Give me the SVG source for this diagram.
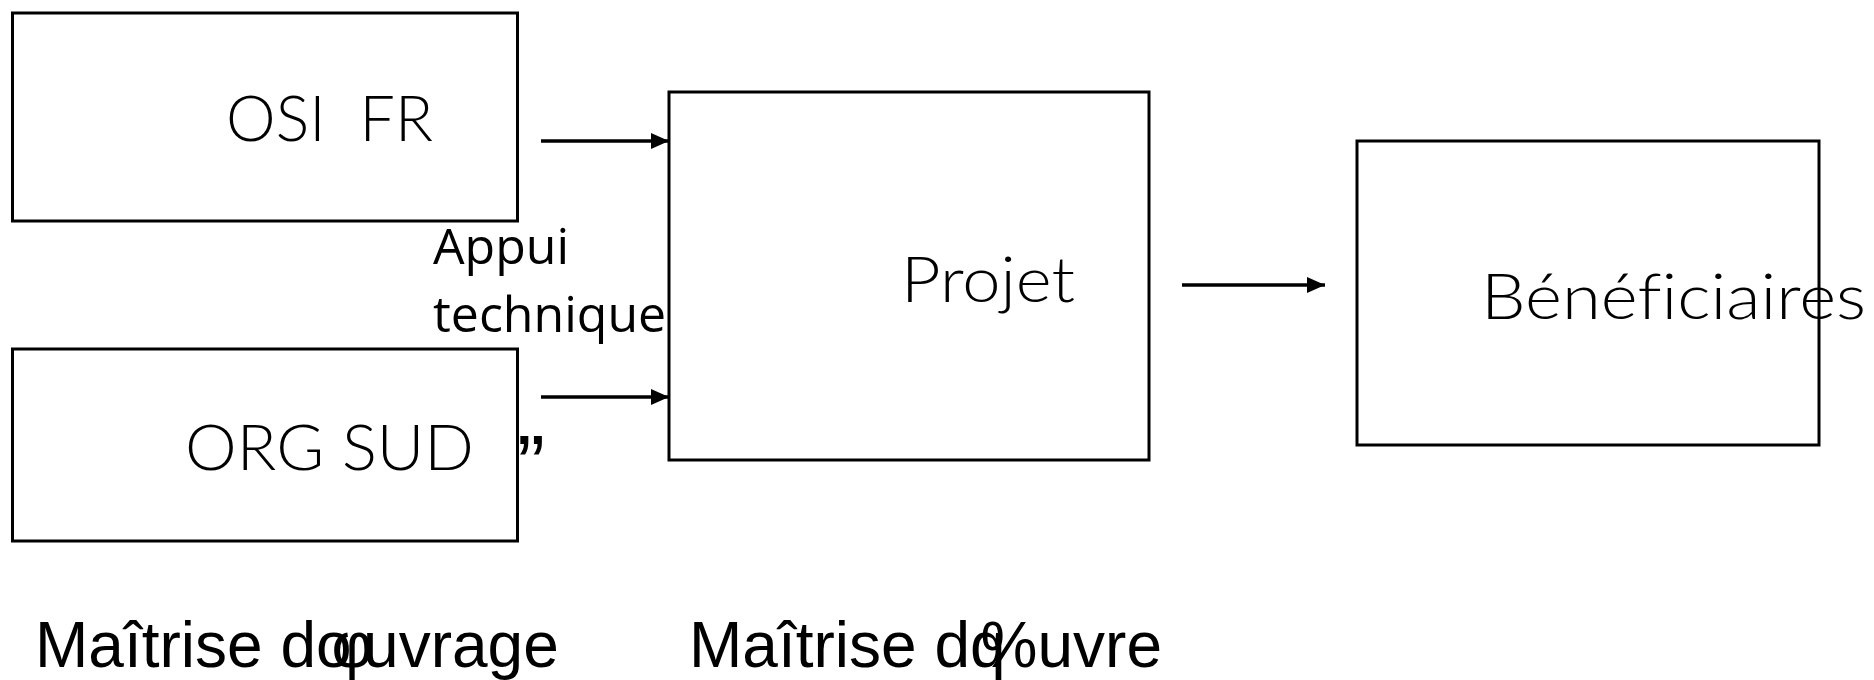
<svg xmlns="http://www.w3.org/2000/svg" width="1874" height="680" viewBox="0 0 1874 680">
<style>
.box{fill:none;stroke:#000;stroke-width:3}
.lbl{font-family:Lato,"Liberation Sans",Arial,sans-serif;font-weight:300;font-size:64px;fill:#000;font-variant-ligatures:none}
.note{font-family:"Open Sans","DejaVu Sans",sans-serif;font-size:50px;fill:#000}
.quote{font-family:"Liberation Sans",Arial,sans-serif;font-size:84px;fill:#000}
.foot{font-family:"Liberation Sans",Arial,sans-serif;font-size:64px;fill:#000}
.conn{stroke:#000;stroke-width:3.6;fill:none}
</style>
<defs>
<marker id="ah" viewBox="0 0 18 16" refX="18" refY="8" markerWidth="18" markerHeight="16" markerUnits="userSpaceOnUse" orient="auto">
<path d="M0,0 L18,8 L0,16 z" fill="#000"/>
</marker>
</defs>
<rect width="1874" height="680" fill="#fff"/>
<g id="osi-fr">
<rect class="box" x="12.5" y="13" width="505" height="208"/>
<text class="lbl" x="226" y="141" xml:space="preserve" textLength="207" lengthAdjust="spacingAndGlyphs">OSI  FR</text>
</g>
<g id="org-sud">
<rect class="box" x="12.5" y="349" width="505" height="192"/>
<text class="lbl" x="185" y="470" textLength="289" lengthAdjust="spacingAndGlyphs">ORG SUD</text>
</g>
<g id="projet">
<rect class="box" x="669" y="92" width="480" height="368"/>
<text class="lbl" x="901" y="302" textLength="174" lengthAdjust="spacingAndGlyphs">Projet</text>
</g>
<g id="beneficiaires">
<rect class="box" x="1357" y="141" width="462" height="304"/>
<text class="lbl" x="1481" y="319" textLength="385" lengthAdjust="spacingAndGlyphs">Bénéficiaires</text>
</g>
<g id="connectors">
<line class="conn" x1="541" y1="141" x2="669" y2="141" marker-end="url(#ah)"/>
<line class="conn" x1="541" y1="397" x2="669" y2="397" marker-end="url(#ah)"/>
<line class="conn" x1="1182" y1="285" x2="1325" y2="285" marker-end="url(#ah)"/>
</g>
<g id="labels">
<text class="note" x="433" y="264">Appui</text>
<text class="note" x="433" y="332">technique</text>
<text class="quote" x="517" y="494">”</text>
<text class="foot" x="35" y="667">Maîtrise do<tspan dx="-20">φ</tspan><tspan dx="-10">uvrage</tspan></text>
<text class="foot" x="689" y="667">Maîtrise dq<tspan dx="-25">%</tspan>uvre</text>
</g>
</svg>
